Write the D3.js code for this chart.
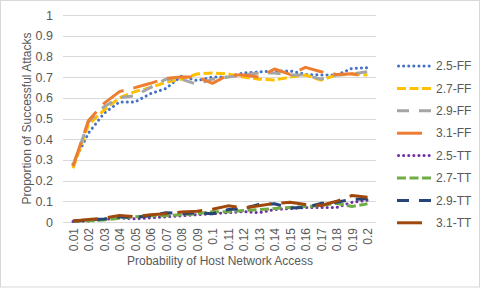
<!DOCTYPE html>
<html>
<head>
<meta charset="utf-8">
<script src="https://cdn.jsdelivr.net/npm/d3@7"></script>
<style>
  body { margin: 0; background: #fff; }
  text { font-family: "Liberation Sans", Arial, sans-serif; fill: #595959; }
</style>
</head>
<body>
<svg id="canvas" width="484" height="289"></svg>
<script>
// x categories
let probs = ["0.01","0.02","0.03","0.04","0.05","0.06","0.07","0.08","0.09","0.1",
             "0.11","0.12","0.13","0.14","0.15","0.16","0.17","0.18","0.19","0.2"]
let yTicks = [0,0.1,0.2,0.3,0.4,0.5,0.6,0.7,0.8,0.9,1]

let seriesNames = ["2.5-FF","2.7-FF","2.9-FF","3.1-FF","2.5-TT","2.7-TT","2.9-TT","3.1-TT"]

let ff25 = [0.28,0.43,0.525,0.58,0.58,0.62,0.645,0.705,0.683,0.70,0.70,0.72,0.725,0.73,0.73,0.713,0.71,0.71,0.742,0.745]
let ff27 = [0.26,0.47,0.54,0.60,0.63,0.65,0.675,0.69,0.715,0.72,0.715,0.70,0.69,0.686,0.70,0.71,0.686,0.71,0.715,0.71]
let ff29 = [0.27,0.485,0.557,0.60,0.61,0.65,0.69,0.69,0.665,0.69,0.70,0.71,0.72,0.72,0.71,0.71,0.69,0.71,0.715,0.726]
let ff31 = [0.27,0.49,0.573,0.63,0.649,0.67,0.694,0.70,0.70,0.67,0.71,0.71,0.70,0.739,0.713,0.747,0.726,0.713,0.716,0.70]
let tt25 = [0.002,0.005,0.012,0.02,0.015,0.02,0.025,0.03,0.035,0.04,0.045,0.05,0.045,0.06,0.065,0.07,0.07,0.07,0.095,0.105]
let tt27 = [0.003,0.006,0.01,0.018,0.025,0.03,0.03,0.035,0.04,0.05,0.05,0.055,0.06,0.065,0.07,0.075,0.08,0.09,0.075,0.088]
let tt29 = [0.005,0.01,0.015,0.025,0.022,0.03,0.045,0.04,0.045,0.04,0.06,0.065,0.085,0.088,0.068,0.07,0.09,0.095,0.11,0.112]
let tt31 = [0.005,0.012,0.018,0.032,0.026,0.035,0.04,0.048,0.052,0.062,0.078,0.068,0.078,0.09,0.095,0.085,0.08,0.1,0.128,0.12]

let seriesValues = [ff25,ff27,ff29,ff31,tt25,tt27,tt29,tt31]
let colors = ["#4472C4","#FFC000","#A5A5A5","#ED7D31","#7030A0","#70AD47","#264478","#9E480E"]
let dashes = ["0.1,5","9,3.5","12,10","25,10","0.1,5","9,3.5","12,10","25,10"]

let svg = d3.select('#canvas')

// chart border
svg.append('rect')
   .attr('x',0.5).attr('y',0.5)
   .attr('width',479).attr('height',286.5)
   .attr('fill','none')
   .attr('stroke','#d9d9d9')

let x = d3.scalePoint()
          .domain(probs)
          .range([73,367.5])

let y = d3.scaleLinear()
          .domain([0,1])
          .range([222,15])

// gridlines
svg.append('g')
   .selectAll('line')
   .data(yTicks)
   .enter()
   .append('line')
   .attr('x1',63).attr('x2',376)
   .attr('y1',(d)=> Math.round(y(d))+0.5)
   .attr('y2',(d)=> Math.round(y(d))+0.5)
   .attr('stroke','#d9d9d9')
   .attr('stroke-width',1)

// y axis
let yAxis = d3.axisLeft(y)
              .tickValues(yTicks)
              .tickFormat((d)=> d3.format('')(+d.toFixed(1)))
              .tickSize(0)
              .tickPadding(0)
let yg = svg.append('g')
   .attr('transform','translate(53,0)')
   .call(yAxis)
yg.select('.domain').remove()
yg.selectAll('text')
  .style('font-size','12.5px')
  .attr('fill','#595959')

// x axis
let xAxis = d3.axisBottom(x).tickSize(0).tickPadding(0)
let xg = svg.append('g')
   .attr('transform','translate(0,228)')
   .call(xAxis)
xg.select('.domain').remove()
xg.selectAll('text')
  .style('font-size','12px')
  .attr('fill','#595959')
  .attr('text-anchor','end')
  .attr('y',0)
  .attr('dy','0.35em')
  .attr('transform','rotate(-90)')

// series lines
let line = d3.line()
             .x((d,i)=> x(probs[i]))
             .y((d)=> y(d))

seriesValues.forEach((vals,i)=>{
    svg.append('path')
       .datum(vals)
       .attr('d',line)
       .attr('fill','none')
       .attr('stroke',colors[i])
       .attr('stroke-width',3)
       .attr('stroke-dasharray',dashes[i])
       .attr('stroke-linecap', dashes[i].startsWith('0.1') ? 'round' : 'butt')
       .attr('stroke-linejoin','round')
})

// legend
let legend = svg.selectAll('.legend')
    .data(seriesNames)
    .enter()
    .append('g')
    .attr('class','legend')
    .attr('transform',(d,i)=> 'translate(397,' + (66 + i*22.4) + ')')

legend.append('line')
      .attr('x1',(d,i)=> dashes[i].startsWith('0.1') ? 1.5 : 0)
      .attr('x2',35)
      .attr('stroke',(d,i)=> colors[i])
      .attr('stroke-width',3)
      .attr('stroke-dasharray',(d,i)=> dashes[i])
      .attr('stroke-linecap',(d,i)=> dashes[i].startsWith('0.1') ? 'round' : 'butt')

legend.append('text')
      .attr('x',39)
      .attr('dy','0.35em')
      .style('font-size','12px')
      .text((d)=> d)

// axis titles
svg.append('text')
   .attr('x',220).attr('y',265)
   .attr('text-anchor','middle')
   .style('font-size','12px')
   .text('Probability of Host Network Access')

svg.append('text')
   .attr('transform','translate(31,118.5) rotate(-90)')
   .attr('text-anchor','middle')
   .style('font-size','12px')
   .text('Proportion of Successful Attacks')
</script>
</body>
</html>
